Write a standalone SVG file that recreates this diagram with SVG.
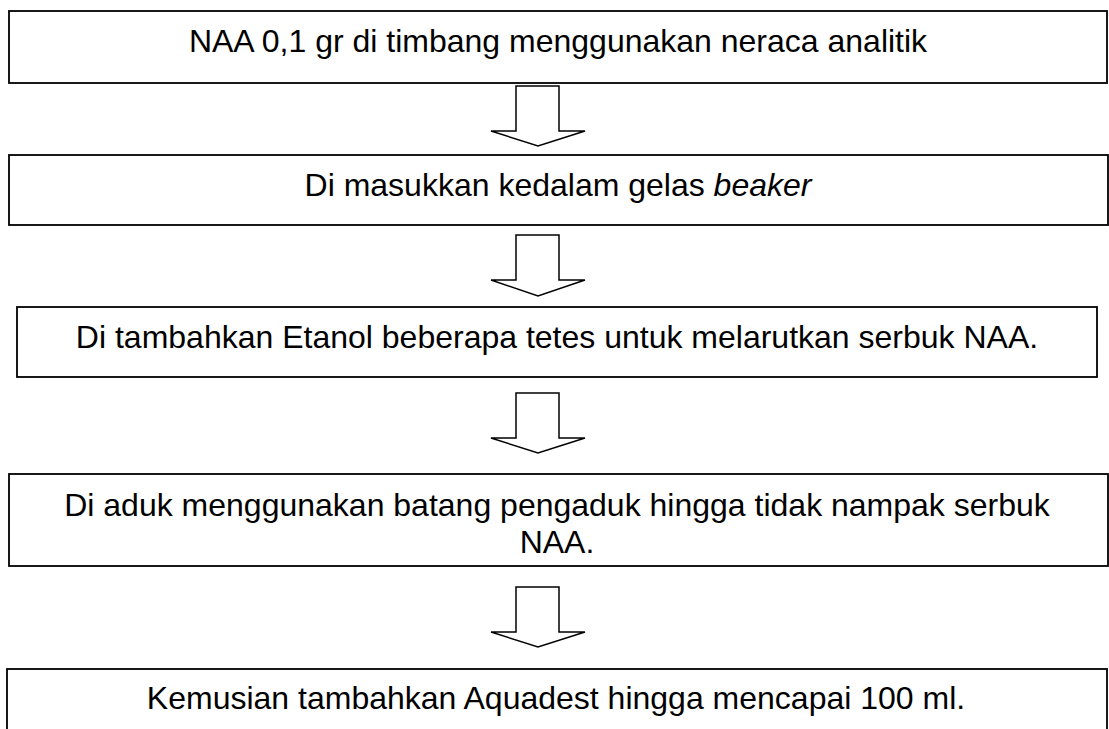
<svg xmlns="http://www.w3.org/2000/svg" width="1109" height="729" viewBox="0 0 1109 729">
<style>
.box{fill:#fff;stroke:#000;stroke-width:1.8}
.arr{fill:#fff;stroke:#000;stroke-width:1.5;stroke-linejoin:miter}
.t{font-family:"Liberation Sans",Arial,sans-serif;font-size:32px;fill:#000;text-anchor:middle}
</style>
<rect width="1109" height="729" fill="#fff"/>
<g id="connectors">
<path class="arr" d="M516,86 H559 V131 H585 L538,146 L491,131 H516 Z"/>
<path class="arr" d="M516,235 H559 V280 H585 L538,296 L491,280 H516 Z"/>
<path class="arr" d="M516,393 H559 V438 H585 L538,453 L491,438 H516 Z"/>
<path class="arr" d="M516,587 H559 V632 H585 L538,647 L491,632 H516 Z"/>
</g>
<g id="node1">
<rect class="box" x="9" y="11" width="1098" height="72"/>
<text class="t" x="558" y="52">NAA 0,1 gr di timbang menggunakan neraca analitik</text>
</g>
<g id="node2">
<rect class="box" x="9" y="155" width="1099" height="70"/>
<text class="t" x="558" y="196">Di masukkan kedalam gelas <tspan font-style="italic">beaker</tspan></text>
</g>
<g id="node3">
<rect class="box" x="17" y="307" width="1080" height="70"/>
<text class="t" x="557" y="348">Di tambahkan Etanol beberapa tetes untuk melarutkan serbuk NAA.</text>
</g>
<g id="node4">
<rect class="box" x="9" y="474" width="1099" height="92"/>
<text class="t" x="557" y="516">Di aduk menggunakan batang pengaduk hingga tidak nampak serbuk</text>
<text class="t" x="557" y="553">NAA.</text>
</g>
<g id="node5">
<rect class="box" x="7" y="669" width="1100" height="80"/>
<text class="t" x="556" y="709">Kemusian tambahkan Aquadest hingga mencapai 100 ml.</text>
</g>
</svg>
